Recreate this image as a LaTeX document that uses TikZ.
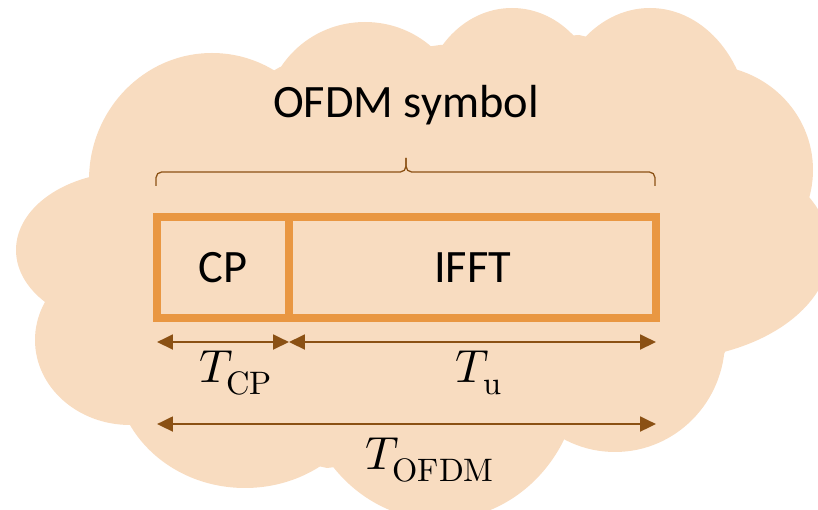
\documentclass[tikz,border=0pt]{standalone}
\usepackage{fontspec}
\usepackage{unicode-math}
\setmainfont{Carlito}
\usetikzlibrary{arrows.meta}

\definecolor{cloudfill}{RGB}{248,220,192}
\definecolor{boxline}{RGB}{233,151,66}
\definecolor{dimline}{RGB}{139,81,20}

\tikzset{
  boxcell/.style={draw=boxline, line width=5.3pt, minimum height=2.525cm,
    inner sep=0pt, outer sep=0pt, font=\fontsize{33}{40}\selectfont},
  titletext/.style={anchor=base, font=\fontsize{33}{40}\selectfont},
  mathlabel/.style={anchor=base, font=\fontsize{33}{40}\selectfont},
  dimarrow/.style={draw=dimline, line width=1.8pt,
    {Triangle[length=0.4cm,width=0.37cm]}-{Triangle[length=0.4cm,width=0.37cm]}},
  bracecurve/.style={draw=dimline, line width=0.9pt, rounded corners=4pt}
}

\begin{document}
\begin{tikzpicture}[x=0.025cm, y=-0.025cm]
  \useasboundingbox (0,0) rectangle (818,510);

  % cloud
  \begin{scope}[fill=cloudfill]
    \fill (90,177) -- (280,67) -- (440,45) -- (579,35) -- (738,72) -- (806,188)
      -- (721,360) -- (555,440) -- (327,468) -- (127,423) -- (55,307) -- cycle;
    \foreach \cx/\cy/\rx/\ry in {212/180/123/127, 365/120/100/98, 512/110/90/102,
        650/130/100/122, 705/170/108/105, 660/250/170/110, 615/340/110/112,
        440/370/140/150, 245/370/130/118, 130/340/95/85, 130/250/114/78}
      \fill (\cx,\cy) ellipse [x radius=\rx, y radius=\ry];
  \end{scope}

  \node[titletext] (title) at (406,118) {OFDM symbol};

  % brace
  \coordinate (tip) at (406,158);
  \draw[bracecurve] (156,186) |- (406,172) -- (tip);
  \draw[bracecurve] (655,186) |- (406,172) -- (tip);

  % symbol
  \node[boxcell, minimum width=3.3cm] (cp) at (223,267.5) {CP};
  \node[boxcell, minimum width=9.175cm] (ifft) at (472.5,267.5) {IFFT};

  % durations
  \draw[dimarrow] ([yshift=-0.6cm]cp.south west) -- ([yshift=-0.6cm]cp.south east);
  \draw[dimarrow] ([yshift=-0.6cm]ifft.south west) -- ([yshift=-0.6cm]ifft.south east);
  \draw[dimarrow] ([yshift=-2.65cm]cp.south west) -- ([yshift=-2.65cm]ifft.south east);

  \node[mathlabel] (tcp) at (236,383) {$T_{\symup{CP}}$};
  \node[mathlabel] (tu) at (479,383) {$T_{\symup{u}}$};
  \node[mathlabel] (tofdm) at (430,470) {$T_{\symup{OFDM}}$};
\end{tikzpicture}
\end{document}
